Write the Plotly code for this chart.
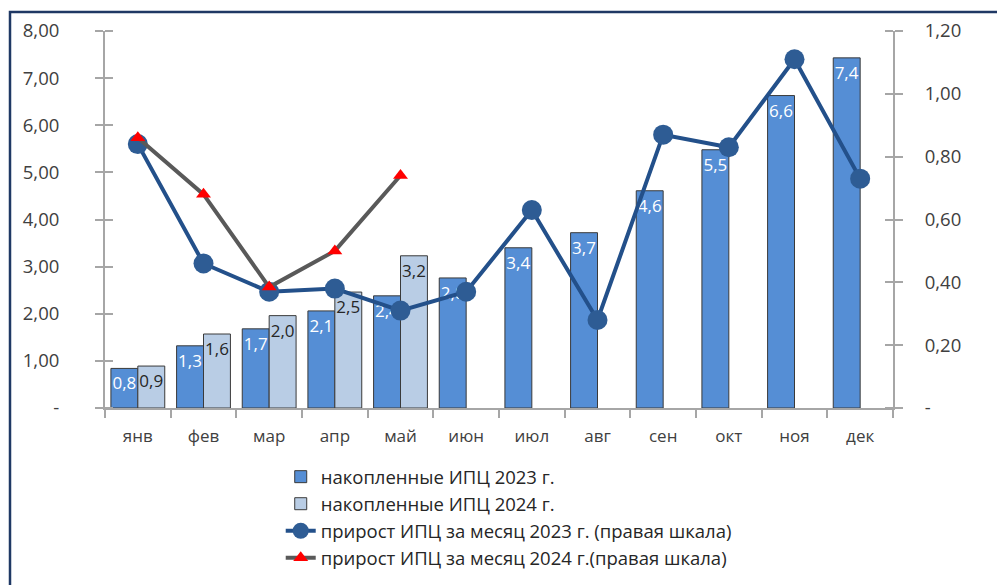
import plotly.graph_objects as go

months = ["янв", "фев", "мар", "апр", "май", "июн", "июл", "авг", "сен", "окт", "ноя", "дек"]
cum_2023 = [0.84, 1.32, 1.68, 2.06, 2.38, 2.76, 3.40, 3.72, 4.61, 5.48, 6.63, 7.43]
cum_2024 = [0.89, 1.57, 1.96, 2.46, 3.23]
mom_2023 = [0.84, 0.46, 0.37, 0.38, 0.31, 0.37, 0.63, 0.28, 0.87, 0.83, 1.11, 0.73]
mom_2024 = [0.86, 0.68, 0.385, 0.50, 0.74]

left_ticks = [0, 1, 2, 3, 4, 5, 6, 7, 8]
left_text = ["-", "1,00", "2,00", "3,00", "4,00", "5,00", "6,00", "7,00", "8,00"]
right_ticks = [0, 0.2, 0.4, 0.6, 0.8, 1.0, 1.2]
right_text = ["-", "0,20", "0,40", "0,60", "0,80", "1,00", "1,20"]

names = ["накопленные ИПЦ 2023 г.", "накопленные ИПЦ 2024 г.",
         "прирост ИПЦ за месяц 2023 г. (правая шкала)",
         "прирост ИПЦ за месяц 2024 г.(правая шкала)"]

FONT = "Open Sans"
AX = "#A6A6A6"
fig = go.Figure()
fig.add_trace(go.Bar(
    x=months, y=cum_2023, name=names[0], legendgroup="a",
    marker=dict(color="#558ED5", line=dict(color="#3a3a3a", width=1)),
    texttemplate="%{y:.1f}", textposition="inside", insidetextanchor="end",
    textangle=0, constraintext="none", cliponaxis=False,
    textfont=dict(color="white", size=17, family=FONT),
))
fig.add_trace(go.Bar(
    x=months[:len(cum_2024)], y=cum_2024, name=names[1], legendgroup="b",
    marker=dict(color="#B9CDE5", line=dict(color="#3a3a3a", width=1)),
    texttemplate="%{y:.1f}", textposition="inside", insidetextanchor="end",
    textangle=0, constraintext="none", cliponaxis=False,
    textfont=dict(color="#262626", size=17, family=FONT),
))
fig.add_trace(go.Scatter(
    x=months, y=mom_2023, name=names[2], legendgroup="c", yaxis="y2", mode="lines+markers",
    line=dict(color="#23508A", width=4),
    marker=dict(symbol="circle", size=20, color="#2E5C94"),
    cliponaxis=False,
))
fig.add_trace(go.Scatter(
    x=months[:len(mom_2024)], y=mom_2024, name=names[3], legendgroup="d", yaxis="y2",
    mode="lines+markers",
    line=dict(color="#595959", width=4),
    marker=dict(symbol="triangle-up", size=13, color="#FF0000"),
    cliponaxis=False,
))

tick_common = dict(showline=True, linecolor=AX, linewidth=2,
                   ticks="outside", ticklen=8, tickcolor=AX, tickwidth=2,
                   showgrid=False)

fig.update_layout(
    width=997, height=585,
    margin=dict(l=105, r=104, t=31, b=177, autoexpand=False),
    paper_bgcolor="white", plot_bgcolor="white",
    separators=", ",
    barmode="group", bargap=0.18, bargroupgap=0,
    font=dict(family=FONT, size=17, color="#404040"),
    showlegend=True,
    legend=dict(x=0.223, y=-0.133, xanchor="left", yanchor="top",
                font=dict(size=18.5, color="#262626", family=FONT),
                bgcolor="rgba(0,0,0,0)", traceorder="grouped", tracegroupgap=0),
    xaxis=dict(type="category", categoryorder="array", categoryarray=months,
               range=[-0.5, 11.5], tickson="boundaries", ticklabelstandoff=12,
               tickfont=dict(size=17, color="#404040"),
               **tick_common),
    yaxis=dict(range=[0, 8], tickvals=left_ticks, ticktext=left_text,
               zeroline=False, ticklabelstandoff=32,
               minor=dict(tickvals=[v + 1e-6 for v in left_ticks], ticks="inside",
                          ticklen=8, tickcolor=AX, tickwidth=2, showgrid=False),
               tickfont=dict(size=18.5, color="#404040"),
               **tick_common),
    yaxis2=dict(range=[0, 1.2], tickvals=right_ticks, ticktext=right_text,
                overlaying="y", side="right",
                zeroline=False, ticklabelstandoff=18,
                minor=dict(tickvals=[v + 1e-7 for v in right_ticks], ticks="inside",
                           ticklen=8, tickcolor=AX, tickwidth=2, showgrid=False),
                tickfont=dict(size=18.5, color="#404040"),
                **tick_common),
    shapes=[dict(type="rect", xref="paper", yref="paper",
                 x0=(10 - 105) / 788, x1=(1003 - 105) / 788,
                 y0=-(600 - 408) / 377, y1=1 + (31 - 12) / 377,
                 line=dict(color="#1F3864", width=2.5), fillcolor="rgba(0,0,0,0)",
                 layer="below")],
)

fig.write_html("out.html", config={"displayModeBar": False},
               post_script="document.body.style.margin='0';document.body.style.overflow='hidden';")
